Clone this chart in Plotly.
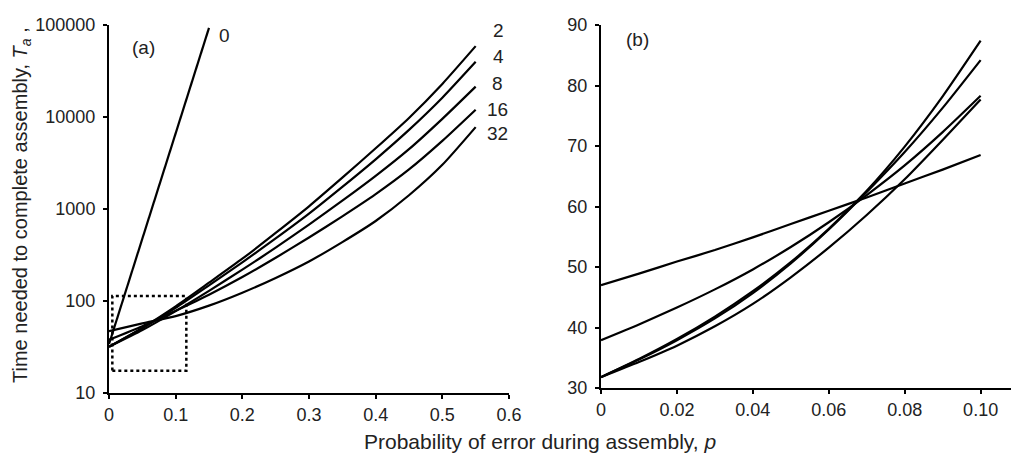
import plotly.graph_objects as go

# ---------------- data ----------------
# Panel (a): log-scale, p from 0 to 0.55
p_a = [0, 0.05, 0.1, 0.15, 0.2, 0.25, 0.3, 0.35, 0.4, 0.45, 0.5, 0.55]
p_a0 = [0, 0.05, 0.1, 0.15]
T_a0 = [34, 470, 6500, 93000]
T_a2 = [31.8, 51.1, 87.4, 158, 288, 550, 1070, 2190, 4570, 9770, 22900, 58900]
T_a4 = [31.8, 50.6, 84.2, 148, 263, 479, 891, 1740, 3470, 7240, 16200, 39800]
T_a8 = [31.8, 48.3, 77.7, 129, 219, 380, 676, 1230, 2290, 4470, 9550, 21400]
T_a16 = [37.9, 53.3, 78.3, 117, 182, 295, 490, 832, 1450, 2690, 5500, 12000]
T_a32 = [47.0, 57.1, 68.5, 89, 123, 178, 269, 437, 741, 1410, 3020, 7760]

# Panel (b): linear scale, p from 0 to 0.10
p_b = [0, 0.01, 0.02, 0.03, 0.04, 0.05, 0.06, 0.07, 0.08, 0.09, 0.10]
T_b2 = [31.8, 34.8, 38.1, 41.8, 46.0, 50.8, 56.3, 62.6, 69.9, 78.2, 87.4]
T_b4 = [31.8, 34.7, 37.9, 41.5, 45.7, 50.6, 56.2, 62.4, 69.0, 76.3, 84.2]
T_b8 = [31.8, 34.3, 37.0, 40.2, 43.9, 48.3, 53.2, 58.6, 64.5, 71.0, 77.7]
T_b16 = [37.9, 40.5, 43.3, 46.3, 49.6, 53.3, 57.4, 61.9, 66.8, 72.3, 78.3]
T_b32 = [47.0, 48.9, 50.9, 52.8, 54.9, 57.1, 59.3, 61.5, 63.8, 66.1, 68.5]

series_labels = ["0", "2", "4", "8", "16", "32"]

xa_ticks = [0, 0.1, 0.2, 0.3, 0.4, 0.5, 0.6]
xa_text = ["0", "0.1", "0.2", "0.3", "0.4", "0.5", "0.6"]
ya_ticks = [10, 100, 1000, 10000, 100000]
ya_text = ["10", "100", "1000", "10000", "100000"]
xb_ticks = [0, 0.02, 0.04, 0.06, 0.08, 0.10]
xb_text = ["0", "0.02", "0.04", "0.06", "0.08", "0.10"]
yb_ticks = [30, 40, 50, 60, 70, 80, 90]

# inset box (data coords in panel a)
box_x = [0.005, 0.116]
box_y = [17.5, 113]

W, H = 1013, 464
FONT = "Liberation Sans, Arial, Helvetica, sans-serif"
LW = 2.2

fig = go.Figure()

line = dict(color="black", width=LW)
fig.add_trace(go.Scatter(x=p_a0, y=T_a0, mode="lines", line=line, xaxis="x", yaxis="y", showlegend=False))
for ys in [T_a2, T_a4, T_a8, T_a16, T_a32]:
    fig.add_trace(go.Scatter(x=p_a, y=ys, mode="lines", line=dict(color="black", width=LW, shape="spline", smoothing=0.6),
                             xaxis="x", yaxis="y", showlegend=False))
for ys in [T_b2, T_b4, T_b8, T_b16, T_b32]:
    fig.add_trace(go.Scatter(x=p_b, y=ys, mode="lines", line=dict(color="black", width=LW, shape="spline", smoothing=0.6),
                             xaxis="x2", yaxis="y2", showlegend=False))

def px_x(x):
    return x / W

def px_y(y):
    return (H - y) / H

axis_common = dict(showline=True, linecolor="black", linewidth=2, ticks="outside", ticklen=4,
                   tickwidth=2, tickcolor="black", showgrid=False, zeroline=False, automargin=False,
                   tickfont=dict(family=FONT, size=18, color="#222"))

fig.update_layout(
    width=W, height=H,
    margin=dict(l=0, r=0, t=0, b=0),
    paper_bgcolor="white", plot_bgcolor="white",
    xaxis=dict(domain=[px_x(109), px_x(509)], range=[0, 0.6], tickvals=xa_ticks, ticktext=xa_text,
               anchor="y", **axis_common),
    yaxis=dict(domain=[px_y(393), px_y(25)], type="log", range=[1, 5], tickvals=ya_ticks, ticktext=ya_text,
               anchor="x", ticklabelstandoff=4, **axis_common),
    xaxis2=dict(domain=[px_x(601), px_x(1011)], range=[0, 0.108], tickvals=xb_ticks, ticktext=xb_text,
                anchor="y2", **axis_common),
    yaxis2=dict(domain=[px_y(388), px_y(25)], range=[30, 90], tickvals=yb_ticks,
                anchor="x2", ticklabelstandoff=4, **axis_common),
)

fig.add_shape(type="rect", xref="x", yref="y", x0=box_x[0], x1=box_x[1], y0=box_y[0], y1=box_y[1],
              line=dict(color="black", width=2.5, dash="dot"))

tf = dict(family=FONT, size=19, color="#222")
ann = [
    dict(x=px_x(143), y=px_y(47), text="(a)"),
    dict(x=px_x(637), y=px_y(39), text="(b)"),
    dict(x=px_x(224), y=px_y(35), text=series_labels[0]),
    dict(x=px_x(498), y=px_y(31), text=series_labels[1]),
    dict(x=px_x(498), y=px_y(57), text=series_labels[2]),
    dict(x=px_x(497), y=px_y(84), text=series_labels[3]),
    dict(x=px_x(497), y=px_y(109), text=series_labels[4]),
    dict(x=px_x(497), y=px_y(133), text=series_labels[5]),
]
for a in ann:
    fig.add_annotation(xref="paper", yref="paper", showarrow=False, font=tf,
                       xanchor="center", yanchor="middle", **a)
fig.add_annotation(xref="paper", yref="paper", x=px_x(540), y=px_y(441), showarrow=False,
                   font=dict(family=FONT, size=21, color="#222"), xanchor="center", yanchor="middle",
                   text="Probability of error during assembly, <i>p</i>")
fig.add_annotation(xref="paper", yref="paper", x=px_x(21), y=px_y(205), showarrow=False, textangle=-90,
                   font=dict(family=FONT, size=20, color="#222"), xanchor="center", yanchor="middle",
                   text="Time needed to complete assembly, <i>T<sub>a</sub></i> ,")

fig.write_html("out.html", config={"displayModeBar": False},
               post_script="document.body.style.margin='0px';document.body.style.overflow='hidden';")
